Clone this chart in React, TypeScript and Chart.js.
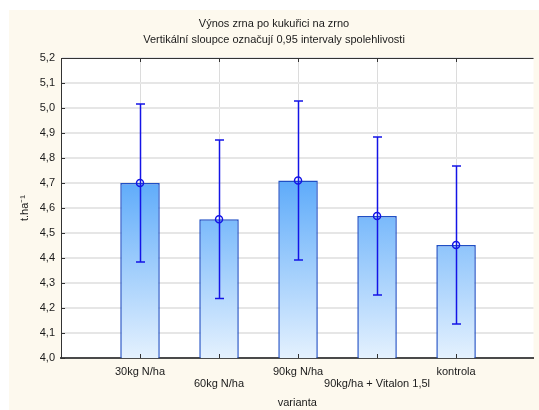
import React, { useEffect, useRef } from "react";
import { Chart, registerables } from "chart.js";

Chart.register(...registerables);

const titleLines = ["Výnos zrna po kukuřici na zrno", "Vertikální sloupce označují 0,95 intervaly spolehlivosti"];
const xTitle = "varianta";
const yTitle = "t.ha⁻¹";
const categories = ["30kg N/ha", "60kg N/ha", "90kg N/ha", "90kg/ha + Vitalon 1,5l", "kontrola"];
const labelRows = [0, 1, 0, 1, 0];
const means = [4.7, 4.555, 4.71, 4.568, 4.452];
const upper = [5.016, 4.872, 5.028, 4.884, 4.768];
const lower = [4.384, 4.238, 4.392, 4.252, 4.136];
const yMin = 4.0;
const yMax = 5.2;
const yStep = 0.1;

const FONT = "'Liberation Sans', Arial, sans-serif";

const decor = {
  id: "decor",
  beforeDraw(chart: any) {
    const { ctx, chartArea: a, width, height } = chart;
    ctx.save();
    ctx.fillStyle = "#fdf9ee";
    ctx.fillRect(0, 0, width, height);
    ctx.fillStyle = "#ffffff";
    ctx.fillRect(a.left, a.top, a.right - a.left, a.bottom - a.top);
    ctx.restore();
  },
  afterDatasetsDraw(chart: any) {
    const { ctx, chartArea: a, scales } = chart;
    const x = scales.x;
    const y = scales.y;
    ctx.save();
    ctx.strokeStyle = "#1414e6";
    ctx.lineWidth = 1.5;
    means.forEach((_m, i) => {
      const px = Math.round(x.getPixelForValue(i + 1)) + 0.5;
      const t = y.getPixelForValue(upper[i]);
      const b = y.getPixelForValue(lower[i]);
      ctx.beginPath();
      ctx.moveTo(px, t);
      ctx.lineTo(px, b);
      ctx.moveTo(px - 4.5, t);
      ctx.lineTo(px + 4.5, t);
      ctx.moveTo(px - 4.5, b);
      ctx.lineTo(px + 4.5, b);
      ctx.stroke();
    });
    ctx.strokeStyle = "#333333";
    ctx.lineWidth = 1;
    ctx.beginPath();
    categories.forEach((_c, i) => {
      const px = Math.round(x.getPixelForValue(i + 1)) + 0.5;
      ctx.moveTo(px, a.bottom);
      ctx.lineTo(px, a.bottom - 4);
      ctx.moveTo(px, a.top);
      ctx.lineTo(px, a.top + 4);
    });
    y.ticks.forEach((t: any) => {
      const py = Math.round(y.getPixelForValue(t.value)) + 0.5;
      ctx.moveTo(a.left, py);
      ctx.lineTo(a.left + 4, py);
    });
    ctx.moveTo(a.left, Math.round(a.top) + 0.5);
    ctx.lineTo(a.right, Math.round(a.top) + 0.5);
    ctx.stroke();
    ctx.restore();
  },
};

export default function App() {
  const ref = useRef<HTMLCanvasElement | null>(null);
  useEffect(() => {
    if (!ref.current) return;
    const chart = new Chart(ref.current, {
      type: "bar",
      data: {
        datasets: [
          {
            type: "line",
            data: means.map((m, i) => ({ x: i + 1, y: m })),
            showLine: false,
            pointRadius: 3.5,
            pointBorderWidth: 1.5,
            pointBorderColor: "#1414e6",
            pointBackgroundColor: "rgba(0,0,0,0)",
            order: 0,
          } as any,
          {
            type: "bar",
            data: means.map((m, i) => ({ x: i + 1, y: m })),
            barPercentage: 1,
            categoryPercentage: 0.5,
            borderWidth: 1.5,
            borderColor: "#1f4fc4",
            backgroundColor: (c: any) => {
              const ch = c.chart;
              const a = ch.chartArea;
              if (!a || !ch.scales.y) return "#8cc3f8";
              const y = ch.scales.y;
              const g = ch.ctx.createLinearGradient(0, y.getPixelForValue(4.72), 0, a.bottom);
              g.addColorStop(0, "rgb(92,170,250)");
              g.addColorStop(1, "rgb(228,241,254)");
              return g;
            },
            order: 1,
          } as any,
        ],
      },
      options: {
        animation: false,
        responsive: false,
        layout: { padding: 0 },
        plugins: {
          legend: { display: false },
          tooltip: { enabled: false },
          title: {
            display: true,
            text: titleLines,
            color: "#1a1a1a",
            font: { family: FONT, size: 11, weight: "normal", lineHeight: 16 / 11 },
            padding: { top: 6, bottom: 10 },
          },
        },
        scales: {
          x: {
            type: "linear",
            min: 0,
            max: 5.98,
            offset: false,
            afterBuildTicks: (s: any) => {
              s.ticks = categories.map((_c, i) => ({ value: i + 1 }));
            },
            afterFit: (s: any) => {
              s.height = 52;
            },
            grid: { color: "#dcdcdc", lineWidth: 1, drawTicks: false, offset: false },
            border: { color: "#4a4a4a", width: 2 },
            ticks: {
              autoSkip: false,
              maxRotation: 0,
              minRotation: 0,
              padding: 8,
              color: "#1a1a1a",
              font: { family: FONT, size: 11, lineHeight: 1.1 },
              callback: (v: any) => {
                const i = Math.round(Number(v)) - 1;
                if (i < 0 || i >= categories.length) return "";
                return labelRows[i] ? ["", categories[i]] : categories[i];
              },
            },
            title: {
              display: true,
              text: xTitle,
              color: "#1a1a1a",
              font: { family: FONT, size: 11, lineHeight: 1.1 },
              padding: { top: 0, bottom: 1 },
            },
          },
          y: {
            type: "linear",
            min: yMin,
            max: yMax,
            afterFit: (s: any) => {
              s.width = 52;
            },
            grid: { color: "#e6e6e6", lineWidth: 2, drawTicks: false },
            border: { color: "#333333", width: 1 },
            ticks: {
              stepSize: yStep,
              autoSkip: false,
              padding: 6,
              color: "#1a1a1a",
              font: { family: FONT, size: 11 },
              callback: (v: any) => Number(v).toFixed(1).replace(".", ","),
            },
            title: {
              display: true,
              text: yTitle,
              color: "#1a1a1a",
              font: { family: FONT, size: 11, lineHeight: 1.1 },
              padding: { top: 10, bottom: 0 },
            },
          },
        },
      },
      plugins: [decor],
    });
    return () => chart.destroy();
  }, []);
  return (
    <div style={{ position: "absolute", left: 9, top: 10, width: 530, height: 400 }}>
      <canvas ref={ref} width={530} height={400} />
    </div>
  );
}
